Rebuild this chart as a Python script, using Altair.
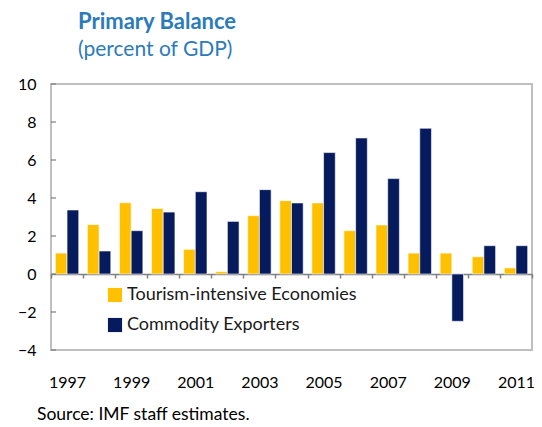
import altair as alt
import pandas as pd

years = [str(y) for y in range(1997, 2012)]
series = ["Tourism-intensive Economies", "Commodity Exporters"]
tourism = [1.1, 2.6, 3.75, 3.45, 1.3, 0.12, 3.07, 3.86, 3.74, 2.28, 2.58, 1.1, 1.1, 0.91, 0.32]
commodity = [3.37, 1.21, 2.28, 3.26, 4.33, 2.77, 4.44, 3.74, 6.39, 7.16, 5.02, 7.67, -2.49, 1.49, 1.49]
y_ticks = [-4, -2, 0, 2, 4, 6, 8, 10]
colors = ["#FFC000", "#051B5E"]

rows = []
for i, yr in enumerate(years):
    rows.append({"Year": yr, "Series": series[0], "Value": tourism[i]})
    rows.append({"Year": yr, "Series": series[1], "Value": commodity[i]})
df = pd.DataFrame(rows)

FONT = "Lato"

y_axis = alt.Axis(title=None, values=y_ticks, grid=False, domain=False, ticks=False,
                  labelPadding=15, labelFont=FONT, labelFontSize=16,
                  labelColor="#000000", labelOverlap=False, labelFlush=False)
y_scale = alt.Scale(domain=[-4, 10], nice=False, zero=False)

bars = alt.Chart(df).mark_bar(stroke="white", strokeWidth=0.6).encode(
    x=alt.X("Year:N", sort=years,
            scale=alt.Scale(paddingInner=0, paddingOuter=0),
            axis=alt.Axis(title=None, offset=-76, domainColor="#7F7F7F", domainWidth=1.5,
                          tickColor="#7F7F7F", tickBand="extent", tickSize=4, tickWidth=1.5,
                          labelExpr="parseInt(datum.value) % 2 == 1 ? datum.label : ''",
                          labelPadding=96, labelAngle=0, labelFont=FONT, labelFontSize=16,
                          labelColor="#000000", labelOverlap=False)),
    xOffset=alt.XOffset("Series:N", sort=series,
                        scale=alt.Scale(paddingOuter=0.37, paddingInner=0)),
    y=alt.Y("Value:Q", scale=y_scale, axis=y_axis),
    color=alt.Color("Series:N", sort=series,
                    scale=alt.Scale(domain=series, range=colors),
                    legend=alt.Legend(orient="none", legendX=55, legendY=202, title=None,
                                      symbolType="square", symbolSize=200,
                                      symbolStrokeWidth=0, labelFont=FONT, labelFontSize=18,
                                      labelColor="#1A1A1A", rowPadding=12, labelOffset=3,
                                      labelLimit=0)),
)

tick_df = pd.DataFrame({"Value": y_ticks})
yticks = alt.Chart(tick_df).mark_rule(color="#7F7F7F", strokeWidth=1.2).encode(
    y=alt.Y("Value:Q", scale=y_scale, axis=y_axis), x=alt.value(0), x2=alt.value(5)
)

src = alt.Chart(pd.DataFrame({"s": ["Source: IMF staff estimates."]})).mark_text(
    align="left", baseline="middle", font=FONT, fontSize=17.5, color="#000000"
).encode(text="s:N", x=alt.value(-14), y=alt.value(331))

chart = alt.layer(bars, yticks, src).properties(
    width=481, height=266,
    autosize=alt.AutoSizeParams(type="none"),
    padding={"left": 43, "top": 76, "right": 2, "bottom": 77},
    title=alt.TitleParams("Primary Balance", subtitle="(percent of GDP)", anchor="start",
                          frame="group", dx=27, offset=15, font=FONT, fontSize=22,
                          fontWeight="bold", color="#2B7BBA", subtitleFont=FONT,
                          subtitleFontSize=21, subtitleColor="#2B7BBA", subtitlePadding=5),
).configure_view(stroke="#BFBFBF", strokeWidth=2)

chart.save("out.html", embed_options={"renderer": "svg", "actions": False})
